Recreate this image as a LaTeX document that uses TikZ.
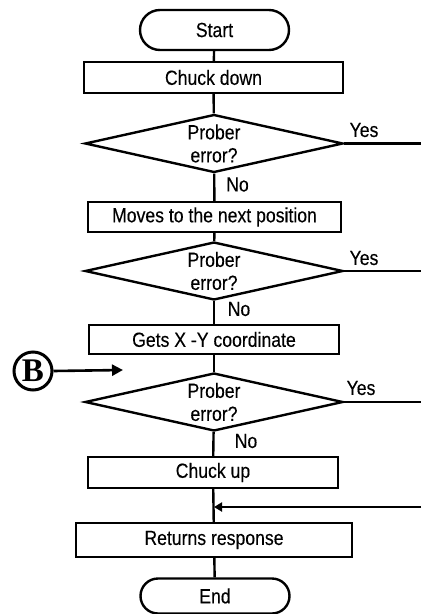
\documentclass[tikz,border=0pt]{standalone}
\usepackage{fontspec}
\setmainfont{Liberation Sans}[FakeStretch=0.86,FakeBold=0.2]
\newfontfamily\bfont{Liberation Serif}
\usetikzlibrary{shapes.geometric,shapes.misc,arrows.meta}
\begin{document}
\begin{tikzpicture}[x=1pt,y=-1pt,line width=2.4pt,
  font=\fontsize{20.5}{23}\selectfont,
  term/.style={draw,rounded rectangle,minimum width=149pt,inner sep=0pt},
  proc/.style={draw,rectangle,inner sep=0pt},
  dec/.style={draw,diamond,aspect=4.45,minimum width=258pt,minimum height=58pt,inner sep=0pt,align=center},
  lbl/.style={inner sep=0pt},
  conn/.style={line width=2.4pt},
  arr/.style={line width=2.4pt,-{Triangle[length=8pt,width=9pt]}}]
\useasboundingbox (0,0) rectangle (421,614);
% nodes
\node[term,minimum height=40pt] (start) at (214.5,30) {Start};
\node[proc,minimum width=259pt,minimum height=31pt] (p1) at (213.5,77.5) {Chuck down};
\node[dec] (d1) at (214,143.5) {Prober\\error?};
\node[proc,minimum width=253pt,minimum height=30pt] (p2) at (214.5,217) {Moves to the next position};
\node[dec] (d2) at (214,271) {Prober\\error?};
\node[proc,minimum width=250pt,minimum height=29pt] (p3) at (214,339.5) {Gets X -Y coordinate};
\node[dec] (d3) at (214,402) {Prober\\error?};
\node[proc,minimum width=250pt,minimum height=31pt] (p4) at (213,472.5) {Chuck up};
\node[proc,minimum width=276pt,minimum height=34pt] (p5) at (214,540) {Returns response};
\node[term,minimum height=35pt] (end) at (215,596) {End};
\node[circle,draw,line width=3pt,minimum size=38pt,inner sep=0pt,
      font=\bfont\bfseries\fontsize{33}{33}\selectfont] (B) at (33,371) {B};
% labels
\node[lbl] (y1) at (364,130) {Yes};
\node[lbl] (y2) at (364,258) {Yes};
\node[lbl] (y3) at (361,388) {Yes};
\node[lbl] (n1) at (237.5,184.5) {No};
\node[lbl] (n2) at (239,309) {No};
\node[lbl] (n3) at (246,441) {No};
% free ends
\coordinate (e1) at (421,143.5);
\coordinate (e2) at (421,271);
\coordinate (e3) at (421,402);
\coordinate (e4) at (421,507);
\coordinate (j4) at (214,507);
\coordinate (bt) at (123,370);
% connectors
\draw[conn] (start) -- (p1);
\draw[conn] (p1) -- (d1);
\draw[conn] (d1) -- (p2);
\draw[conn] (d1.east) -- (e1);
\draw[conn] (p2) -- (d2);
\draw[conn] (d2) -- (p3);
\draw[conn] (d2.east) -- (e2);
\draw[conn] (p3) -- (d3);
\draw[conn] (d3) -- (p4);
\draw[conn] (d3.east) -- (e3);
\draw[conn] (p4) -- (p5);
\draw[conn] (p5) -- (end);
\draw[arr] (e4) -- (j4);
\draw[line width=2.6pt,-{Triangle[length=11pt,width=11pt]}] (B.east) -- (bt);
\end{tikzpicture}
\end{document}
